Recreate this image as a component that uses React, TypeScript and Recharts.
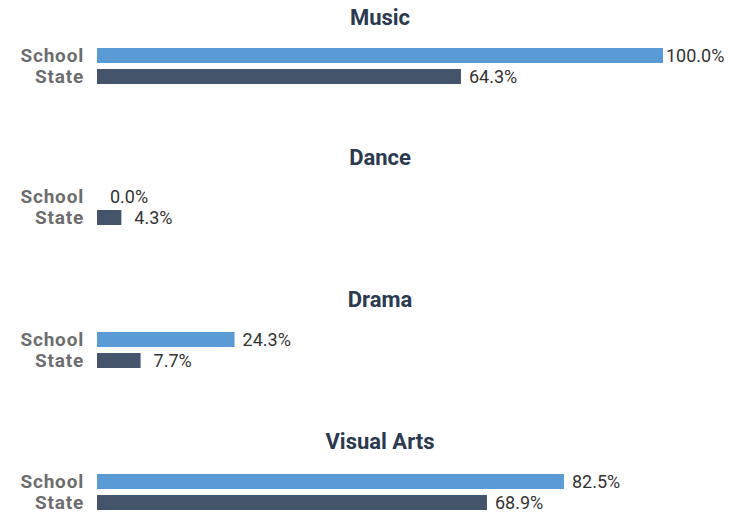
import { Bar, BarChart, Cell, XAxis, YAxis } from "recharts";

const categories = ["Music", "Dance", "Drama", "Visual Arts"];
const rowLabels = ["School", "State"];
const schoolValues = [100, 0, 24.3, 82.5];
const stateValues = [64.3, 4.3, 7.7, 68.9];
const rowColors = ["#5b9bd5", "#44546a"];

const titleTops = [4, 144, 286, 428];
const chartTops = [39, 180, 323, 465];

// bar + value label drawn together so 0 values still get their label
const BarWithLabel = (props: any) => {
  const { x, y, width, height, fill, payload } = props;
  const bx = Number(x) + Number(width || 0);
  const text = `${Number(payload.value).toFixed(1)}%`;
  // labels sit as if the number were right-padded to 5 chars
  let lx = bx + 3 + 5 * (6 - text.length);
  let anchor: "start" | "end" = "start";
  if (lx + text.length * 10 > 730) {
    lx = 724;
    anchor = "end";
  }
  return (
    <g>
      {Number(width) > 0 && (
        <rect x={x} y={y} width={width} height={height} fill={fill} />
      )}
      <text
        x={lx}
        y={Number(y) + Number(height) / 2}
        dy="0.36em"
        fill="#333333"
        fontSize={18}
        textAnchor={anchor}
      >
        {text}
      </text>
    </g>
  );
};

const GroupChart = ({ index }: { index: number }) => {
  const data = rowLabels.map((name, j) => ({
    name,
    value: j === 0 ? schoolValues[index] : stateValues[index],
  }));
  return (
    <BarChart
      width={736}
      height={54}
      data={data}
      layout="vertical"
      margin={{ top: 6, right: 73, left: 0, bottom: 6 }}
      barCategoryGap={3}
    >
      <XAxis type="number" domain={[0, 100]} hide />
      <YAxis
        type="category"
        dataKey="name"
        width={97}
        axisLine={false}
        tickLine={false}
        tickSize={0}
        tickMargin={13}
        interval={0}
        tick={{ fill: "#6d6d6d", fontSize: 19, fontWeight: 700, letterSpacing: 0.8 }}
      />
      <Bar
        dataKey="value"
        barSize={15}
        isAnimationActive={false}
        shape={BarWithLabel}
      >
        {data.map((d, j) => (
          <Cell key={d.name} fill={rowColors[j]} />
        ))}
      </Bar>
    </BarChart>
  );
};

export default function App() {
  return (
    <div
      style={{
        position: "absolute",
        left: 0,
        top: 0,
        width: 736,
        height: 516,
        background: "#ffffff",
        fontFamily: "Roboto, sans-serif",
      }}
    >
      {categories.map((c, i) => (
        <div key={c}>
          <div
            style={{
              position: "absolute",
              top: titleTops[i],
              left: 97,
              width: 566,
              textAlign: "center",
              fontSize: 22,
              fontWeight: 700,
              color: "#2b3a4e",
              lineHeight: "28px",
            }}
          >
            {c}
          </div>
          <div style={{ position: "absolute", top: chartTops[i], left: 0 }}>
            <GroupChart index={i} />
          </div>
        </div>
      ))}
    </div>
  );
}
